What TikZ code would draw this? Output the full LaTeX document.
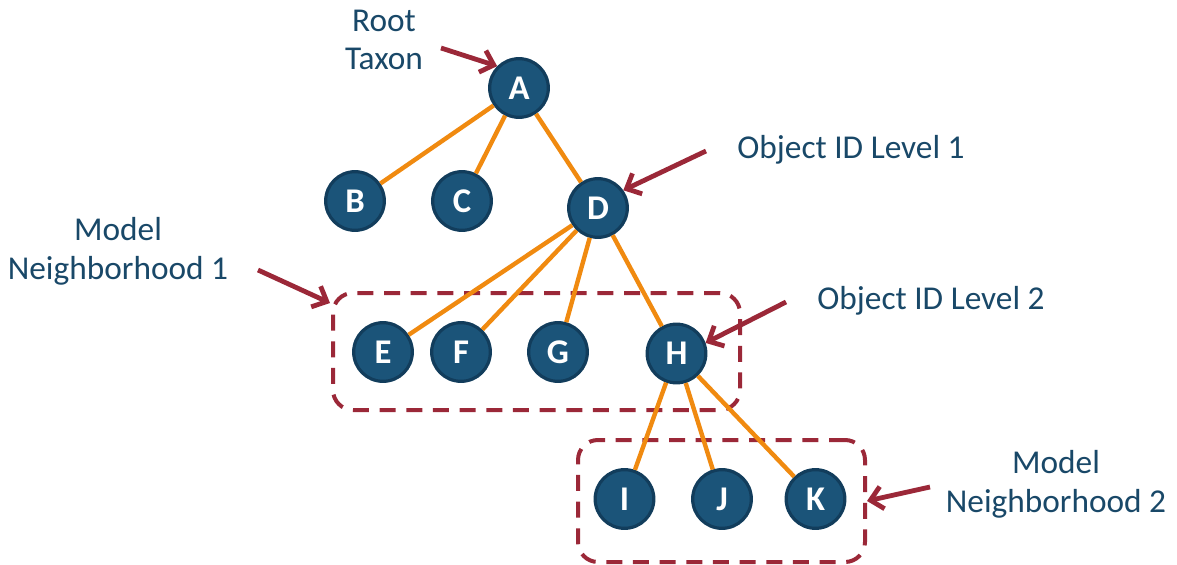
\documentclass[tikz,border=0pt]{standalone}
\usepackage{fontspec}
\setmainfont{Carlito}
\usetikzlibrary{arrows.meta}
\definecolor{nodefill}{HTML}{1B5479}
\definecolor{nodeline}{HTML}{123D5C}
\definecolor{edgeor}{HTML}{F08A10}
\definecolor{darkred}{HTML}{9B2838}
\definecolor{labtext}{HTML}{194868}
\tikzset{
  tnode/.style={circle, fill=nodefill, draw=nodeline, line width=2.4pt, minimum size=44pt, inner sep=0pt,
    text=white, font=\fontsize{26}{26}\selectfont\bfseries},
  edge/.style={draw=edgeor, line width=3.3pt},
  dashbox/.style={draw=darkred, line width=3pt, dash pattern=on 12pt off 8pt, rounded corners=15pt, inner sep=0pt},
  pointer/.style={draw=darkred, line width=3.6pt, -{Straight Barb[length=9pt, width=17pt]}},
  lab/.style={text=labtext, align=center, font=\fontsize{25}{29}\selectfont, inner sep=0pt}
}
\begin{document}
\begin{tikzpicture}[x=0.75pt, y=-0.75pt]
\useasboundingbox (0,0) rectangle (1177,564);
% boxes
\node[dashbox, minimum width=305.25pt, minimum height=87.75pt] (box1) at (536.5,351.5) {};
\node[dashbox, minimum width=215.25pt, minimum height=91.5pt] (box2) at (721.5,501) {};
% nodes
\node[tnode] (A) at (519,88) {A};
\node[tnode] (B) at (355,201) {B};
\node[tnode] (C) at (462,201) {C};
\node[tnode] (D) at (598,208) {D};
\node[tnode] (E) at (383,352) {E};
\node[tnode] (F) at (461,352) {F};
\node[tnode] (G) at (558,352) {G};
\node[tnode] (H) at (676.5,353.5) {H};
\node[tnode] (I) at (624.5,499) {I};
\node[tnode] (J) at (722,499) {J};
\node[tnode] (K) at (815.5,499) {K};
% edges
\foreach \a/\b in {A/B, A/C, A/D, D/E, D/F, D/G, D/H, H/I, H/J, H/K}
  \draw[edge] (\a) -- (\b);
% labels
\node[lab] (rt) at (384,40) {Root\\Taxon};
\node[lab] (oid1) at (851,150) {Object ID Level 1};
\node[lab] (mn1) at (118,251) {Model\\Neighborhood 1};
\node[lab] (oid2) at (931,301) {Object ID Level 2};
\node[lab] (mn2) at (1056,484) {Model\\Neighborhood 2};
% pointer arrows
\coordinate (p1) at (441,48);
\coordinate (p2) at (706,151);
\coordinate (p3) at (258,270);
\coordinate (p3e) at (330,303);
\coordinate (p4) at (786,302);
\coordinate (p5) at (930,487);
\draw[pointer] (p1) -- (A.135);
\draw[pointer] (p2) -- (D.35);
\draw[pointer] (p3) -- (p3e);
\draw[pointer] (p4) -- (H.20);
\draw[pointer] (p5) -- (box2.east);
\end{tikzpicture}
\end{document}
